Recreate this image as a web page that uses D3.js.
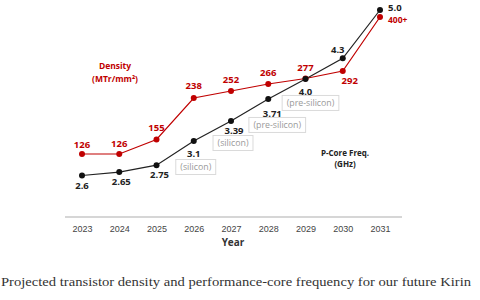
<!DOCTYPE html>
<html>
<head>
<meta charset="utf-8">
<script src="https://cdn.jsdelivr.net/npm/d3@7"></script>
<style>
  body { margin: 0; background: #fff; }
  svg { display: block; }
</style>
</head>
<body>
<div id="chart"></div>
<script>
// data
var years = ["2023", "2024", "2025", "2026", "2027", "2028", "2029", "2030", "2031"];
var density = [126, 126, 155, 238, 252, 266, 277, 292, 400];
var densityLabels = ["126", "126", "155", "238", "252", "266", "277", "292", "400+"];
var freq = [2.6, 2.65, 2.75, 3.1, 3.39, 3.71, 4.0, 4.3, 5.0];
var freqLabels = ["2.6", "2.65", "2.75", "3.1", "3.39", "3.71", "4.0", "4.3", "5.0"];
var freqNotes = ["", "", "", "(silicon)", "(silicon)", "(pre-silicon)", "(pre-silicon)", "", ""];

var width = 480, height = 300;
var red = "#c00000";

var svg = d3.select("#chart")
  .append("svg")
  .attr("width", width)
  .attr("height", height);

var x = d3.scalePoint().domain(years).range([82, 380]);
var yDen = d3.scaleLinear().domain([126, 400]).range([154, 17]);
var yFreq = d3.scaleLinear().domain([2.6, 5.0]).range([175.5, 10]);

// x axis
var xAxis = d3.axisBottom(x).tickSize(0).tickPadding(9);
var gx = svg.append("g")
  .attr("transform", "translate(0,217)")
  .call(xAxis);
gx.select(".domain")
  .attr("d", "M65,0H402")
  .style("stroke", "#c8c8c8")
  .style("stroke-width", 1.5);
gx.selectAll("text")
  .style("font-family", "'Liberation Sans', Arial, sans-serif")
  .style("font-size", "9px")
  .style("fill", "#444");

svg.append("text")
  .attr("x", x("2027") + 2)
  .attr("y", 245.5)
  .attr("text-anchor", "middle")
  .style("font-family", "'Open Sans', sans-serif")
  .style("font-size", "10px")
  .style("font-weight", "bold")
  .style("fill", "#333")
  .text("Year");

// lines
var lineDen = d3.line()
  .x(function (d, i) { return x(years[i]); })
  .y(function (d) { return yDen(d); });
var lineFreq = d3.line()
  .x(function (d, i) { return x(years[i]); })
  .y(function (d) { return yFreq(d); });

svg.append("path")
  .datum(density)
  .attr("d", lineDen)
  .style("fill", "none")
  .style("stroke", red)
  .style("stroke-width", 1.2);

svg.append("path")
  .datum(freq)
  .attr("d", lineFreq)
  .style("fill", "none")
  .style("stroke", "#222")
  .style("stroke-width", 1.2);

svg.selectAll(".dden")
  .data(density)
  .enter()
  .append("circle")
  .attr("class", "dden")
  .attr("cx", function (d, i) { return x(years[i]); })
  .attr("cy", function (d) { return yDen(d); })
  .attr("r", 3)
  .style("fill", red);

svg.selectAll(".dfreq")
  .data(freq)
  .enter()
  .append("circle")
  .attr("class", "dfreq")
  .attr("cx", function (d, i) { return x(years[i]); })
  .attr("cy", function (d) { return yFreq(d); })
  .attr("r", 3)
  .style("fill", "#111");

var labelFont = "'Open Sans', 'Noto Sans', sans-serif";

// density value labels
var denOffset = [[0, -6], [0, -7], [0, -9], [0, -9], [0, -8], [0, -8], [0, -8], [7, 13], [8, 6]];
svg.selectAll(".lden")
  .data(densityLabels)
  .enter()
  .append("text")
  .attr("class", "lden")
  .attr("x", function (d, i) { return x(years[i]) + denOffset[i][0]; })
  .attr("y", function (d, i) { return yDen(density[i]) + denOffset[i][1]; })
  .attr("text-anchor", function (d, i) { return i == 8 ? "start" : "middle"; })
  .style("font-family", labelFont)
  .style("font-size", function (d, i) { return i == 8 ? "8.5px" : "9.5px"; })
  .style("font-weight", "bold")
  .style("fill", red)
  .text(function (d) { return d; });

// frequency value labels
var freqOffset = [[0, 13], [2, 13], [3, 13], [0, 16], [3, 13], [4, 18], [0, 16], [-5, -5], [8, 1]];
svg.selectAll(".lfreq")
  .data(freqLabels)
  .enter()
  .append("text")
  .attr("class", "lfreq")
  .attr("x", function (d, i) { return x(years[i]) + freqOffset[i][0]; })
  .attr("y", function (d, i) { return yFreq(freq[i]) + freqOffset[i][1]; })
  .attr("text-anchor", function (d, i) { return i == 8 ? "start" : "middle"; })
  .style("font-family", labelFont)
  .style("font-size", "9.5px")
  .style("font-weight", "bold")
  .style("fill", "#222")
  .text(function (d) { return d; });

// note boxes under some frequency labels
var noteOffset = [null, null, null, [2, 26], [2, 22], [9, 26], [5, 24], null, null];
freqNotes.forEach(function (note, i) {
  if (!note) return;
  var g = svg.append("g")
    .attr("transform", "translate(" + (x(years[i]) + noteOffset[i][0]) + "," + (yFreq(freq[i]) + noteOffset[i][1]) + ")");
  var t = g.append("text")
    .attr("text-anchor", "middle")
    .attr("dy", "0.35em")
    .style("font-family", labelFont)
    .style("font-size", "8.8px")
    .style("fill", "#9a9a9a")
    .text(note);
  var w = t.node().getComputedTextLength() + 9;
  g.insert("rect", "text")
    .attr("x", -w / 2)
    .attr("y", -7.5)
    .attr("width", w)
    .attr("height", 15)
    .style("fill", "#fff")
    .style("stroke", "#dadada")
    .style("stroke-width", 1);
});

// series titles
var denTitle = svg.append("text")
  .attr("x", 115)
  .attr("y", 69)
  .attr("text-anchor", "middle")
  .style("font-family", labelFont)
  .style("font-size", "8.5px")
  .style("font-weight", "bold")
  .style("fill", red);
denTitle.append("tspan").attr("x", 115).text("Density");
denTitle.append("tspan").attr("x", 115).attr("dy", 13).text("(MTr/mm²)");

var freqTitle = svg.append("text")
  .attr("x", 345)
  .attr("y", 156)
  .attr("text-anchor", "middle")
  .style("font-family", labelFont)
  .style("font-size", "8px")
  .style("font-weight", "bold")
  .style("fill", "#222");
freqTitle.append("tspan").attr("x", 345).text("P-Core Freq.");
freqTitle.append("tspan").attr("x", 345).attr("dy", 11).text("(GHz)");

// caption
svg.append("text")
  .attr("x", 1)
  .attr("y", 286)
  .attr("textLength", 470)
  .attr("lengthAdjust", "spacingAndGlyphs")
  .style("font-family", "'Liberation Serif', 'Times New Roman', serif")
  .style("font-size", "12.5px")
  .style("fill", "#333")
  .text("Projected transistor density and performance-core frequency for our future Kirin");
</script>
</body>
</html>
